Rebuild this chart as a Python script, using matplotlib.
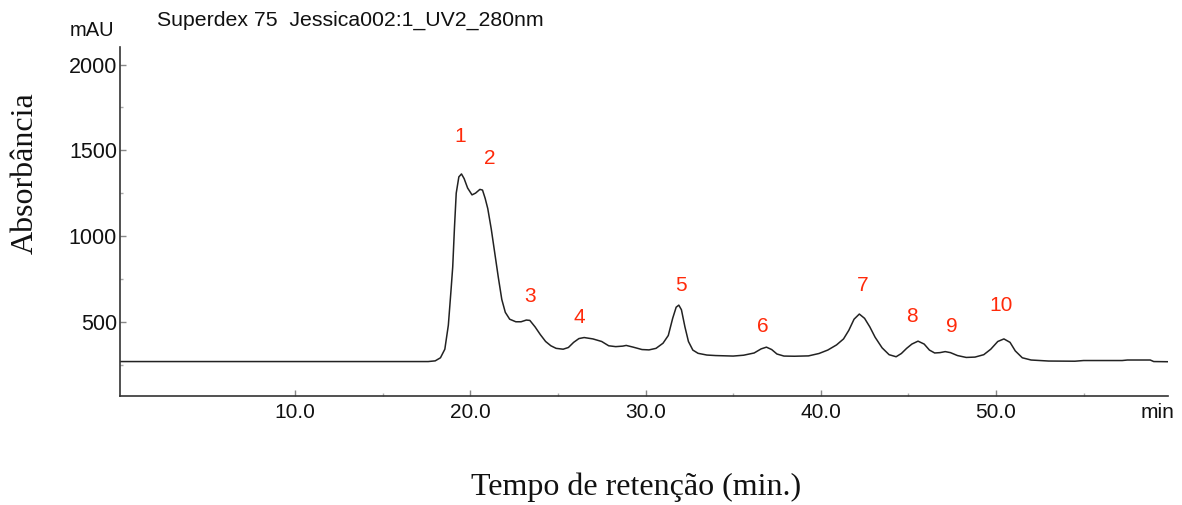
import matplotlib
matplotlib.use("Agg")
import matplotlib.pyplot as plt
from matplotlib.ticker import FixedLocator

# ---- data ----
time_min = [0.0, 17.6, 18.0, 18.3, 18.55, 18.75, 18.9, 19.0, 19.1, 19.2, 19.35, 19.5,
            19.65, 19.85, 20.1, 20.3, 20.55, 20.7, 20.85, 21.0, 21.2, 21.4, 21.6, 21.8,
            22.0, 22.25, 22.6, 22.9, 23.2, 23.4, 23.7, 24.0, 24.3, 24.6, 24.9, 25.3,
            25.6, 25.9, 26.2, 26.5, 27.0, 27.5, 27.9, 28.3, 28.7, 28.9, 29.3, 29.8,
            30.2, 30.6, 31.0, 31.3, 31.55, 31.75, 31.9, 32.05, 32.25, 32.45, 32.7, 33.0,
            33.5, 34.0, 35.0, 35.6, 36.2, 36.6, 36.9, 37.2, 37.5, 37.9, 38.5, 39.3,
            39.9, 40.4, 40.9, 41.3, 41.6, 41.9, 42.2, 42.5, 42.8, 43.1, 43.5, 43.9,
            44.3, 44.6, 44.9, 45.2, 45.55, 45.9, 46.2, 46.5, 46.8, 47.1, 47.4, 47.8,
            48.3, 48.8, 49.3, 49.7, 50.1, 50.45, 50.8, 51.1, 51.5, 52.0, 53.0, 54.5,
            55.0, 57.2, 57.5, 58.8, 59.0, 59.8]
absorbance = [268, 268, 272, 290, 340, 480, 680, 820, 1050, 1250, 1345, 1362,
              1335, 1280, 1240, 1250, 1272, 1268, 1220, 1160, 1040, 900, 760, 630,
              555, 515, 500, 500, 510, 508, 470, 425, 385, 360, 345, 340,
              350, 380, 402, 408, 400, 385, 360, 355, 358, 362, 352, 338,
              336, 345, 375, 420, 520, 585, 597, 570, 470, 385, 335, 316,
              306, 303, 300, 305, 318, 342, 352, 338, 312, 300, 299, 301,
              315, 335, 365, 400, 450, 515, 545, 520, 470, 410, 348, 308,
              296, 315, 345, 370, 387, 370, 335, 318, 320, 326, 320, 303,
              292, 294, 308, 340, 385, 400, 380, 330, 290, 277, 271, 270,
              274, 274, 277, 277, 268, 267]

peak_labels = ["1", "2", "3", "4", "5", "6", "7", "8", "9", "10"]
peak_label_t = [19.4, 21.1, 23.4, 26.2, 32.0, 36.7, 42.4, 45.2, 47.5, 50.3]
peak_label_v = [1578, 1454, 650, 522, 713, 470, 713, 533, 470, 597]

x_major = [10, 20, 30, 40, 50]
x_major_labels = ["10.0", "20.0", "30.0", "40.0", "50.0"]
x_minor = [15, 25, 35, 45, 55]
y_major = [500, 1000, 1500, 2000]
y_minor = [250, 750, 1250, 1750]

# ---- figure ----
fig = plt.figure(figsize=(11.82, 5.05), dpi=100)
ax = fig.add_axes([0.1013, 0.2158, 0.8871, 0.6917])

ax.plot(time_min, absorbance, color="#222222", lw=1.1)

ax.set_xlim(0, 59.83)
ax.set_ylim(67, 2104)

for s in ["top", "right"]:
    ax.spines[s].set_visible(False)
for s in ["left", "bottom"]:
    ax.spines[s].set_color("#333333")
    ax.spines[s].set_linewidth(1.2)

sans = "Liberation Sans"
serif = "Liberation Serif"

ax.xaxis.set_major_locator(FixedLocator(x_major))
ax.set_xticklabels(x_major_labels, fontfamily=sans, fontsize=15)
ax.xaxis.set_minor_locator(FixedLocator(x_minor))
ax.yaxis.set_major_locator(FixedLocator(y_major))
ax.set_yticklabels([str(v) for v in y_major], fontfamily=sans, fontsize=15.5)
ax.yaxis.set_minor_locator(FixedLocator(y_minor))

ax.tick_params(axis="both", which="major", direction="in", length=4, width=1,
               color="#888888", labelcolor="#111111")
ax.tick_params(axis="both", which="minor", direction="in", length=2, width=1,
               color="#aaaaaa")
ax.tick_params(axis="x", which="major", pad=5)
ax.tick_params(axis="y", which="major", pad=2)

for lab, t, v in zip(peak_labels, peak_label_t, peak_label_v):
    ax.text(t, v, lab, color="#ff2a0a", fontsize=15, fontfamily=sans,
            ha="center", va="center")

fig.text(92 / 1182, 1 - 31 / 505, "mAU", fontfamily=sans, fontsize=14.5,
         ha="center", va="center", color="#111111")
fig.text(157 / 1182, 1 - 20 / 505, "Superdex 75  Jessica002:1_UV2_280nm",
         fontfamily=sans, fontsize=15.3, ha="left", va="center", color="#111111")
fig.text(1157 / 1182, 1 - 412 / 505, "min", fontfamily=sans, fontsize=15,
         ha="center", va="center", color="#111111")

fig.text(25 / 1182, 1 - 173 / 505, "Absorbância", fontfamily=serif, fontsize=23,
         rotation=90, ha="center", va="center", color="#111111")
fig.text(636 / 1182, 1 - 487 / 505, "Tempo de retenção (min.)", fontfamily=serif,
         fontsize=23, ha="center", va="center", color="#111111")

fig.savefig("out.png", dpi=100)
